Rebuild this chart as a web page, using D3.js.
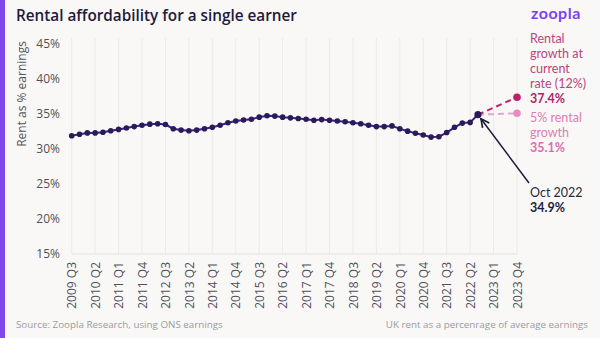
<!DOCTYPE html>
<html><head><meta charset="utf-8">
<script src="https://cdn.jsdelivr.net/npm/d3@7"></script>
<style>
html,body{margin:0;padding:0;background:#F9F8F6;}
svg{display:block;font-family:Lato, "Open Sans", sans-serif;}
</style></head>
<body>
<svg id="chart" width="600" height="338"></svg>
<script>
// ---- data ----
const quarters = [];
for (let y = 2009; y <= 2023; y++) for (let q = 1; q <= 4; q++) {
  if (y === 2009 && q < 3) continue;
  quarters.push(y + " Q" + q);
}
const actualValues = [31.9,32.1,32.3,32.3,32.4,32.6,32.8,33.0,33.2,33.4,33.55,33.6,33.5,32.9,32.7,32.6,32.7,32.9,33.1,33.4,33.75,34.0,34.15,34.25,34.55,34.75,34.7,34.55,34.45,34.35,34.25,34.1,34.2,34.1,34.0,33.9,33.75,33.6,33.4,33.2,33.2,33.3,32.9,32.55,32.25,32.0,31.7,31.75,32.35,33.1,33.7,33.8,34.9];
const currentRateProjection = [{q:"2022 Q3", v:34.9},{q:"2023 Q4", v:37.4}];
const fivePctProjection = [{q:"2022 Q3", v:34.9},{q:"2023 Q4", v:35.1}];
const yTicks = [15,20,25,30,35,40,45];
const xTickLabels = quarters.filter((d,i)=> i % 3 === 0);

// ---- layout ----
const svg = d3.select("#chart");
svg.append("rect").attr("width",600).attr("height",338).attr("fill","#F9F8F6");
svg.append("rect").attr("x",0).attr("y",0).attr("width",5).attr("height",338).attr("fill","#8046F0");

const x = d3.scalePoint().domain(quarters).range([71.7, 517]);
const y = d3.scaleLinear().domain([15,45]).range([254,44]);

// vertical grid
svg.append("g").selectAll("line").data(xTickLabels).join("line")
  .attr("x1", d=>x(d)).attr("x2", d=>x(d)).attr("y1", 38).attr("y2", 254)
  .attr("stroke","#ECEAE8").attr("stroke-width",1);
// baseline
svg.append("line").attr("x1",x(quarters[0])).attr("x2",x(quarters[quarters.length-1]))
  .attr("y1",y(15)).attr("y2",y(15)).attr("stroke","#E4E2E0").attr("stroke-width",1);

// x axis
const xAxis = d3.axisBottom(x).tickValues(xTickLabels).tickSize(0).tickPadding(0);
const gx = svg.append("g").attr("transform","translate(0,"+254+")").call(xAxis);
gx.select(".domain").remove();
gx.selectAll("text")
  .attr("transform","rotate(-90)")
  .attr("text-anchor","end")
  .attr("x",-8).attr("y",0).attr("dy","0.35em")
  .attr("fill","#50505A").attr("font-size",12)
  .attr("font-family","'Open Sans', sans-serif");

// y axis
const yAxis = d3.axisLeft(y).tickValues(yTicks).tickSize(0).tickPadding(0).tickFormat(d=>d+"%");
const gy = svg.append("g").attr("transform","translate(60,0)").call(yAxis);
gy.select(".domain").remove();
gy.selectAll("text").attr("fill","#50505A").attr("font-size",12).attr("font-family","'Open Sans', sans-serif");

svg.append("text").attr("transform","translate(26,94) rotate(-90)")
  .attr("text-anchor","middle").attr("fill","#55555F").attr("font-size",12)
  .attr("font-family","'Open Sans', sans-serif")
  .text("Rent as % earnings");

// projections
const pline = d3.line().x(d=>x(d.q)).y(d=>y(d.v));
svg.append("path").datum(fivePctProjection).attr("d",pline).attr("fill","none")
  .attr("stroke","#E9A2CB").attr("stroke-width",2).attr("stroke-dasharray","6,4");
svg.append("path").datum(currentRateProjection).attr("d",pline).attr("fill","none")
  .attr("stroke","#C0246F").attr("stroke-width",2).attr("stroke-dasharray","6,4");
svg.append("circle").attr("cx",x(fivePctProjection[1].q)).attr("cy",y(fivePctProjection[1].v)).attr("r",3.8).attr("fill","#E68DC0");
svg.append("circle").attr("cx",x(currentRateProjection[1].q)).attr("cy",y(currentRateProjection[1].v)).attr("r",3.8).attr("fill","#BE1F6C");

// main line
const actual = actualValues.map((v,i)=>({q:quarters[i], v}));
svg.append("path").datum(actual).attr("d",pline).attr("fill","none")
  .attr("stroke","#3B1E96").attr("stroke-width",2);
svg.append("g").selectAll("circle").data(actual).join("circle")
  .attr("cx",d=>x(d.q)).attr("cy",d=>y(d.v)).attr("r",2.8).attr("fill","#2A1B57");
const last = actual[actual.length-1];
svg.append("circle").attr("cx",x(last.q)).attr("cy",y(last.v)).attr("r",3.6).attr("fill","#2A1B57");

// arrow
svg.append("defs").append("marker").attr("id","ah").attr("viewBox","0 0 10 10")
  .attr("refX",9).attr("refY",5).attr("markerWidth",7).attr("markerHeight",7).attr("orient","auto")
  .append("path").attr("d","M1,1 L9,5 L1,9").attr("fill","none").attr("stroke","#1E1B3A").attr("stroke-width",1.6);
svg.append("line").attr("x1",529).attr("y1",183).attr("x2",x(last.q)+3).attr("y2",y(last.v)+4)
  .attr("stroke","#1E1B3A").attr("stroke-width",1.5).attr("marker-end","url(#ah)");

// annotations
function lines(xp, y0, arr, color, weight){
  const t = svg.append("text").attr("x",xp).attr("y",y0).attr("fill",color).attr("font-size",12.5).attr("font-weight",weight||400);
  arr.forEach((s,i)=> t.append("tspan").attr("x",xp).attr("dy", i===0?0:15).text(s));
}
lines(530, 43, ["Rental","growth at","current","rate (12%)"], "#B8457F");
lines(530, 103, [currentRateProjection[1].v + "%"], "#B01F66", 700);
lines(530, 122, ["5% rental","growth"], "#E07CB4");
lines(530, 152, [fivePctProjection[1].v + "%"], "#E06BAE", 700);
lines(530, 197, ["Oct 2022"], "#2A2840");
lines(530, 212, [last.v + "%"], "#1E1B3A", 700);

// title & logo
svg.append("text").attr("x",16).attr("y",21).attr("fill","#1E1B3A").attr("font-size",15.3).attr("font-weight",600)
  .attr("font-family","'Open Sans', sans-serif")
  .text("Rental affordability for a single earner");
svg.append("text").attr("x",531).attr("y",19).attr("fill","#7E3FF2").attr("font-size",16).attr("font-weight",700)
  .attr("letter-spacing",0.5).text("zoopla");

// footer
svg.append("text").attr("x",16).attr("y",328).attr("fill","#9A9AA2").attr("font-size",9.8)
  .attr("font-family","'Open Sans', sans-serif")
  .text("Source: Zoopla Research, using ONS earnings");
svg.append("text").attr("x",588).attr("y",328).attr("text-anchor","end").attr("fill","#9A9AA2").attr("font-size",9.8)
  .attr("font-family","'Open Sans', sans-serif")
  .text("UK rent as a percenrage of average earnings");
</script>
</body></html>
